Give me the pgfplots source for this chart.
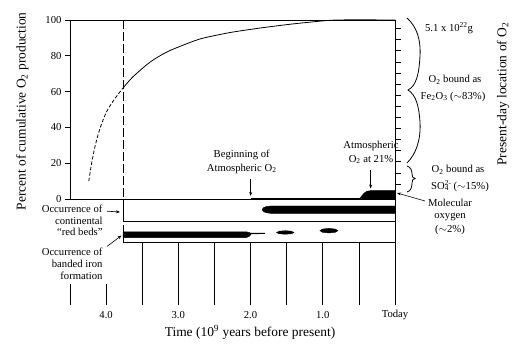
\documentclass[border=0pt]{standalone}
\usepackage{fontspec}
\setmainfont{Liberation Serif}
\usepackage{pgfplots}
\pgfplotsset{compat=1.18}
\usetikzlibrary{arrows.meta}
\newcommand{\ann}{\fontsize{10.7}{12}\selectfont}
\newcommand{\lab}{\fontsize{13.5}{15}\selectfont}
\begin{document}
\begin{tikzpicture}
\begin{axis}[
  at={(0,0)}, anchor=south west,
  scale only axis, width=325bp, height=179bp,
  xmin=0, xmax=4.5, x dir=reverse,
  ymin=0, ymax=100,
  clip=false,
  axis line style={line width=0.8pt},
  ytick={0,20,...,100},
  ytick pos=left,
  tick align=outside,
  major tick length=5bp,
  tick style={line width=0.7pt,black},
  xtick=\empty,
  /pgf/number format/assume math mode=true,
  yticklabel style={font=\ann},
  ylabel={Percent of cumulative O\textsubscript{2} production},
  ylabel style={font=\lab, at={(axis description cs:-0.147,0.49)}, anchor=center},
  xlabel={Time (10\textsuperscript{9} years before present)},
  xlabel style={font=\lab, at={(axis description cs:0.554,-0.745)}, anchor=center},
]
% cumulative O2 curve
\addplot[line width=0.8pt, smooth, dash pattern=on 3.5bp off 2bp] coordinates {
 (4.24,10) (4.20,20) (4.15,30) (4.08,40) (3.99,49) (3.88,56) (3.766,62)};
\addplot[line width=0.8pt, smooth] coordinates {
 (3.766,62) (3.63,68.2) (3.39,76.5) (3.16,82.1) (2.93,86) (2.70,89.4) (2.46,91.6) (2.24,93.3) (1.87,95.5) (1.5,97.4) (1.2,98.7) (0.8,100) (0,100)};
% molecular oxygen
\addplot[line width=1.1pt] coordinates {(2.0,0.5) (0.5,0.5)};
\addplot[fill=black, draw=black] coordinates {(0.50,0) (0.47,1.2) (0.43,3.2) (0.39,4.3) (0.33,4.7) (0,4.7) (0,0)} -- cycle;
% red beds band
\addplot[fill=black, draw=black] coordinates {(1.84,-6.0) (1.82,-4.8) (1.78,-4.2) (1.72,-3.9) (0,-3.9) (0,-8.0) (1.72,-8.0) (1.78,-7.7) (1.82,-7.1)} -- cycle;
% banded iron formation
\addplot[fill=black, draw=black] coordinates {(3.766,-18.3) (2.06,-18.3) (2.01,-18.8) (1.99,-19.4) (2.01,-20.6) (2.06,-21.6) (3.766,-21.6)} -- cycle;
\addplot[line width=1.1pt] coordinates {(2.0,-19.3) (1.80,-19.2)};
\addplot[fill=black, draw=black] coordinates {(1.64,-18.7) (1.605,-18.0) (1.52,-17.7) (1.435,-18.0) (1.40,-18.7) (1.435,-19.4) (1.52,-19.7) (1.605,-19.4)} -- cycle;
\addplot[fill=black, draw=black] coordinates {(1.04,-17.7) (1.003,-16.8) (0.915,-16.4) (0.827,-16.8) (0.79,-17.7) (0.827,-18.6) (0.915,-19.0) (1.003,-18.6)} -- cycle;
% frames
\draw[line width=0.8pt, dash pattern=on 9bp off 3bp] (axis cs:3.766,100) -- (axis cs:3.766,-5);
\draw[line width=0.8pt] (axis cs:3.766,-5) -- (axis cs:3.766,-12.3) -- (axis cs:0,-12.3);
\draw[line width=0.8pt] (axis cs:3.766,-14.5) -- (axis cs:3.766,-24) -- (axis cs:0,-24);
\draw[line width=0.8pt] (axis cs:0,0) -- (axis cs:0,-59.2);
\pgfplotsinvokeforeach{3.5,3.0,2.5,2.0,1.5,1.0,0.5}{
  \draw[line width=0.7pt] (axis cs:#1,-24) -- (axis cs:#1,-59.2);
}
\pgfplotsinvokeforeach{4.5,4.0}{
  \draw[line width=0.7pt] (axis cs:#1,-47.5) -- (axis cs:#1,-59.2);
}
% x tick labels
\node[font=\ann] at (axis cs:4,-64.8) {4.0};
\node[font=\ann] at (axis cs:3,-64.8) {3.0};
\node[font=\ann] at (axis cs:2,-64.8) {2.0};
\node[font=\ann] at (axis cs:1,-64.8) {1.0};
\node[font=\ann] at (axis cs:0,-64.8) {Today};
\end{axis}
\begin{scope}[x=1bp,y=-1bp,shift={(-70bp,199bp)}]
% right axis ticks
\foreach \k in {0,...,14} {
  \draw[line width=0.7pt] (395,{184-11.1*\k}) -- (401,{184-11.1*\k});
}
% big brace
\draw[line width=0.8pt] (407,18) .. controls (417,27) and (421,40) .. (420,56)
  .. controls (419,75) and (416,86) .. (408,90)
  .. controls (416,95) and (419,106) .. (420,122)
  .. controls (421,140) and (416,154) .. (407,163);
% small brace
\draw[line width=0.8pt] (407,166) .. controls (411,167) and (412,171) .. (412,174)
  .. controls (412,177) and (413,178) .. (415,178.5)
  .. controls (413,179) and (412,180) .. (412,183)
  .. controls (412,187) and (411,191) .. (407,192);
% right annotations
\node[font=\ann] at (449,28) {5.1 x 10\textsuperscript{22}g};
\node[font=\ann] at (455,80) {O\textsubscript{2} bound as};
\node[font=\ann] at (453,96.5) {Fe\textsubscript{2}O\textsubscript{3} ($\sim$83\%)};
\node[font=\ann] at (458,169.5) {O\textsubscript{2} bound as};
\node[font=\ann] at (460,186) {SO\rlap{\textsuperscript{2-}}\textsubscript{4}\kern2pt{} ($\sim$15\%)};
\node[font=\ann] at (450,203) {Molecular};
\node[font=\ann] at (450,216.5) {oxygen};
\node[font=\ann] at (450,230) {($\sim$2\%)};
\draw[line width=0.6pt, -{Stealth[length=4bp,width=3bp]}] (425,201) -- (397,193);
\node[font=\lab, rotate=90] at (503,94) {Present-day location of O\textsubscript{2}};
% inner annotations
\node[font=\ann] at (241.7,155) {Beginning of};
\node[font=\ann] at (241.7,168.5) {Atmospheric O\textsubscript{2}};
\draw[line width=0.6pt, -{Stealth[length=4bp,width=3bp]}] (250.7,179) -- (250.7,196);
\node[font=\ann] at (371,146) {Atmospheric};
\node[font=\ann] at (371,159.5) {O\textsubscript{2} at 21\%};
\draw[line width=0.6pt, -{Stealth[length=4bp,width=3bp]}] (370.7,170.5) -- (370.7,188.5);
% left annotations
\node[font=\ann, anchor=east] at (106,208.5) {Occurrence of};
\node[font=\ann, anchor=east] at (106,220.5) {continental};
\node[font=\ann, anchor=east] at (106,232.3) {``red beds''};
\node[font=\ann, anchor=east] at (106,251.7) {Occurrence of};
\node[font=\ann, anchor=east] at (106,263.5) {banded iron};
\node[font=\ann, anchor=east] at (106,275.5) {formation};
\draw[line width=0.6pt, -{Stealth[length=4bp,width=3bp]}] (107,211.2) -- (120,212);
\draw[line width=0.6pt, -{Stealth[length=4bp,width=3bp]}] (107,246.5) -- (121.5,235.5);
\end{scope}
\pgfresetboundingbox
\path[use as bounding box] (-70bp,-147bp) rectangle (450bp,199bp);
\end{tikzpicture}
\end{document}
